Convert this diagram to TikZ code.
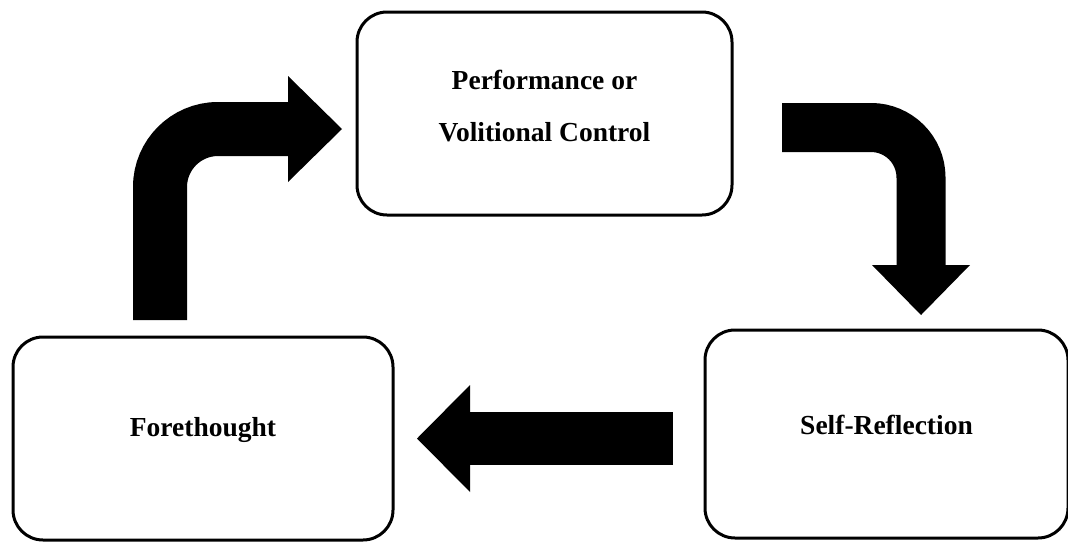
\documentclass[tikz,border=0pt]{standalone}
\usepackage{fontspec}
\setmainfont{Liberation Serif}
\begin{document}
\begin{tikzpicture}[x=1pt,y=-1pt,
  phase/.style={draw=black, line width=3pt, rounded corners=30pt, fill=white},
  phaselabel/.style={font=\bfseries\fontsize{27.5}{52}\selectfont, align=center, inner sep=0pt},
  shaft/.style={draw=black, line width=#1, line cap=butt},
  head/.style={fill=black, draw=none}]
  \useasboundingbox (0,0) rectangle (1068,541);

  % the three phases of the cycle
  \node[phase, minimum width=375pt, minimum height=203pt] (perf) at (544.5,113.5) {};
  \node[phase, minimum width=380pt, minimum height=203pt] (fore) at (203,438.5) {};
  \node[phase, minimum width=363pt, minimum height=208pt] (self) at (886.5,434) {};

  \node[phaselabel] (perflbl) at ([yshift=7.5pt]perf.center) {Performance or\\Volitional Control};
  \node[phaselabel] (forelbl) at ([yshift=8.5pt]fore.center) {Forethought};
  \node[phaselabel] (selflbl) at ([yshift=9pt]self.center) {Self-Reflection};

  % Forethought -> Performance: bent block arrow
  \coordinate (a1s) at (160,320);
  \coordinate (a1c) at (160,129);
  \coordinate (a1e) at (289,129);
  \draw[shaft=54pt, rounded corners=58pt] (a1s) -- (a1c) -- (a1e);
  \fill[head] (288,76) -- (342,129) -- (288,182) -- cycle;

  % Performance -> Self-Reflection: bent block arrow
  \coordinate (a2s) at (782,127.5);
  \coordinate (a2c) at (921,127.5);
  \coordinate (a2e) at (921,266);
  \draw[shaft=49pt, rounded corners=50pt] (a2s) -- (a2c) -- (a2e);
  \fill[head] (872,265) -- (970,265) -- (921,315) -- cycle;

  % Self-Reflection -> Forethought: straight block arrow
  \coordinate (a3s) at (673,438.5);
  \coordinate (a3e) at (469,438.5);
  \draw[shaft=53pt] (a3s) -- (a3e);
  \fill[head] (470,385) -- (417,438.5) -- (470,492) -- cycle;
\end{tikzpicture}
\end{document}
